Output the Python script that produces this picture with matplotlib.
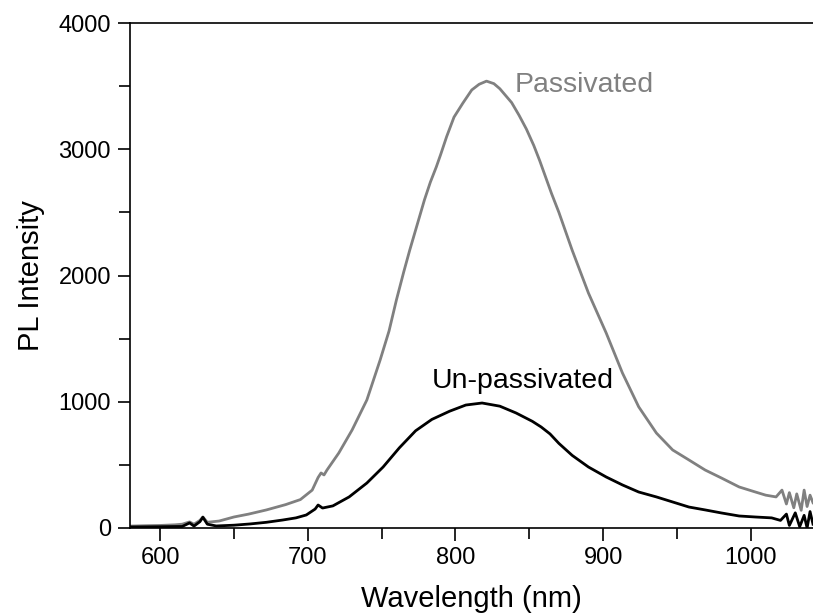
import matplotlib
matplotlib.use("Agg")
import matplotlib.pyplot as plt
from matplotlib.ticker import MultipleLocator

plt.rcParams['font.family'] = ['Liberation Sans', 'DejaVu Sans']

# values
wl_pass = [580, 590, 600, 610, 615, 620, 623, 627, 629, 632, 640, 650, 660, 672,
           685, 695, 703, 707, 709, 711, 713, 721, 730, 740, 749, 755, 760, 765, 769,
           774, 779, 783, 787, 790, 794, 799, 805, 811, 816, 821, 826, 830, 838, 843,
           848, 853, 857, 865, 870, 879, 890, 902, 913, 924, 936, 947, 958, 969, 980,
           992, 1003, 1010, 1017, 1021, 1024, 1026, 1029, 1031, 1034, 1036, 1038,
           1040, 1042]
int_pass = [15, 18, 20, 25, 30, 48, 30, 60, 87, 45, 55, 87, 110, 143,
            185, 225, 300, 400, 436, 420, 459, 594, 776, 1014, 1331, 1560, 1806, 2030, 2200,
            2400, 2600, 2740, 2860, 2960, 3100, 3255, 3366, 3470, 3515, 3540, 3520, 3480, 3370, 3270,
            3160, 3030, 2910, 2650, 2500, 2200, 1861, 1545, 1228, 960, 752, 618, 539, 459, 396,
            325, 285, 260, 246, 300, 190, 280, 160, 270, 140, 300, 170,
            260, 200]

wl_unpass = [580, 600, 615, 620, 623, 627, 629, 632, 638, 650, 661, 672, 683, 692,
             699, 705, 707, 710, 717, 728, 740, 751, 762, 773, 784, 796, 807, 818,
             830, 841, 852, 858, 864, 870, 879, 890, 902, 913, 924, 936, 947, 958, 969,
             980, 992, 1003, 1014, 1020, 1024, 1026, 1030, 1033, 1036, 1038, 1040, 1042]
int_unpass = [8, 10, 12, 40, 15, 50, 85, 30, 16, 22, 32, 45, 63, 80,
              103, 150, 182, 158, 175, 246, 356, 483, 635, 770, 860, 925, 974, 990,
              965, 911, 845, 800, 745, 670, 575, 483, 404, 341, 285, 246, 206, 166, 143,
              119, 95, 87, 80, 60, 110, 20, 120, 10, 100, 0, 130, 30]

fig = plt.figure(figsize=(8.13, 6.15), dpi=100)
ax = fig.add_axes([0.1605, 0.1415, 0.8395, 0.821])

ax.plot(wl_pass, int_pass, color='#808080', lw=2.0)
ax.plot(wl_unpass, int_unpass, color='black', lw=2.0)

ax.text(840, 3453, 'Passivated', color='#808080', fontsize=20.5)
ax.text(784, 1109, 'Un-passivated', color='black', fontsize=20.5)

ax.set_xlim(580, 1042)
ax.set_ylim(0, 4000)
ax.xaxis.set_major_locator(MultipleLocator(100))
ax.xaxis.set_minor_locator(MultipleLocator(50))
ax.yaxis.set_major_locator(MultipleLocator(1000))
ax.yaxis.set_minor_locator(MultipleLocator(500))
ax.tick_params(which='major', direction='out', length=9, width=1.2, labelsize=17, pad=5)
ax.tick_params(which='minor', direction='out', length=8, width=1.2)
ax.spines['right'].set_visible(False)
for s in ['left', 'bottom', 'top']:
    ax.spines[s].set_linewidth(1.2)

ax.set_xlabel('Wavelength (nm)', fontsize=21, labelpad=11)
ax.set_ylabel('PL Intensity', fontsize=21, labelpad=10)

fig.savefig('out.png', dpi=100)
